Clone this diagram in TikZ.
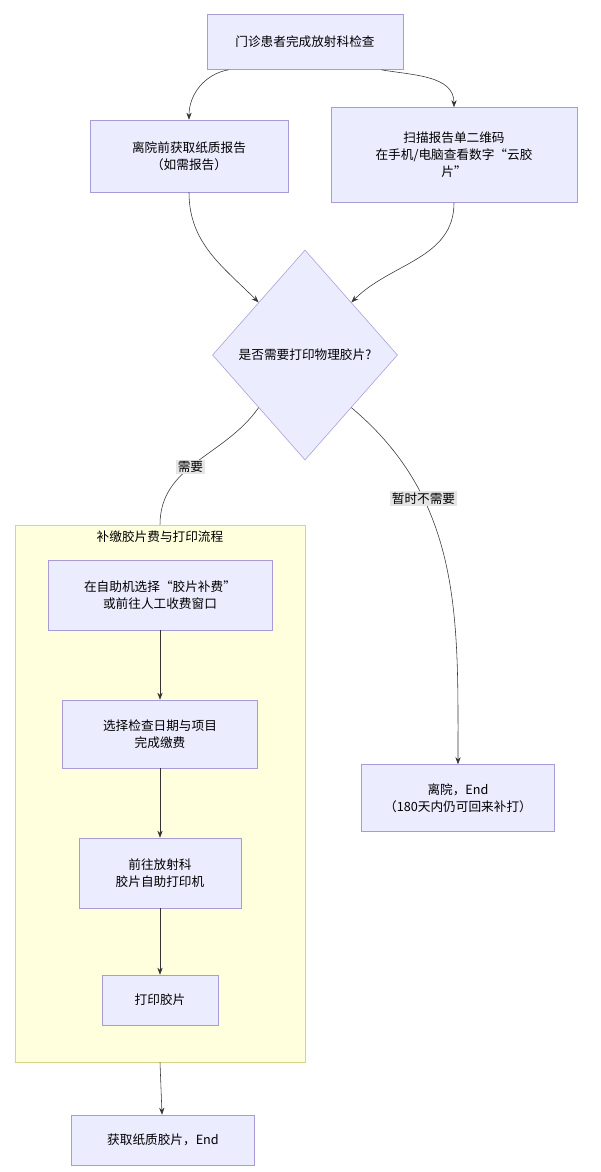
\documentclass[tikz,border=0pt]{standalone}
\usepackage{fontspec}
\setmainfont{Noto Sans CJK SC}
\usetikzlibrary{shapes.geometric,arrows.meta}
\definecolor{nodeline}{HTML}{A99BD8}
\definecolor{nodefill}{HTML}{ECECFF}
\definecolor{flowline}{HTML}{D6D68A}
\definecolor{flowfill}{HTML}{FFFFDE}

\tikzset{
  box/.style={draw=nodeline, fill=nodefill, align=center, font=\fontsize{9}{12}\selectfont, inner sep=2pt},
  arr/.style={draw=black!80, -{Stealth[length=5pt]}},
  lbl/.style={fill=black!10, font=\fontsize{9}{11}\selectfont, inner sep=1pt}
}

\begin{document}
\begin{tikzpicture}[x=0.025cm, y=-0.025cm]
        \useasboundingbox (0,0) rectangle (600,1172);

        \node[draw=flowline, fill=flowfill, minimum width=290*0.025cm, minimum height=537*0.025cm](flow) at (160,793.5) {};
        \node[font=\fontsize{9}{11}\selectfont] (flowtitle) at (160,537) {补缴胶片费与打印流程};

        \node[box, minimum width=196*0.025cm, minimum height=55*0.025cm](start) at (305,42) {门诊患者完成放射科检查};
        \node[box, minimum width=198*0.025cm, minimum height=72*0.025cm](paper) at (189,156) {离院前获取纸质报告\\（如需报告）};
        \node[box, minimum width=246*0.025cm, minimum height=95*0.025cm](cloud) at (454,155) {扫描报告单二维码\\在手机/电脑查看数字“云胶\\片”};
        \node[box, diamond, minimum width=185*0.025cm, minimum height=210*0.025cm, inner sep=0pt](ask) at (305,355) {是否需要打印物理胶片?};

        \node[box, minimum width=224*0.025cm, minimum height=70*0.025cm](pay) at (160,595) {在自助机选择“胶片补费”\\或前往人工收费窗口};
        \node[box, minimum width=195*0.025cm, minimum height=68*0.025cm](date) at (160,734) {选择检查日期与项目\\完成缴费};
        \node[box, minimum width=162*0.025cm, minimum height=70*0.025cm](go) at (160,873) {前往放射科\\胶片自助打印机};
        \node[box, minimum width=116*0.025cm, minimum height=50*0.025cm](print) at (160,1000) {打印胶片};

        \node[box, minimum width=193*0.025cm, minimum height=67*0.025cm](leave) at (458,798) {离院，End\\（180天内仍可回来补打）};
        \node[box, minimum width=183*0.025cm, minimum height=50*0.025cm](final) at (163,1140) {获取纸质胶片，End};

        \draw[arr] (start.200) to[out=190, in=90] (paper.north);
        \draw[arr] (start.-20) to[out=-10, in=90] (cloud.north);
        \draw[arr] (paper.south) to[out=-90, in=135] (ask.north west);
        \draw[arr] (cloud.south) to[out=-90, in=45] (ask.north east);
        \draw[draw=black!80] (ask.south west) to[out=235, in=90] node[lbl, pos=0.55]{需要} (flow.north);
        \draw[arr] (ask.south east) to[out=-40, in=90] node[lbl, pos=0.3]{暂时不需要} (leave.north);
        \draw[arr] (pay) -- (date);
        \draw[arr] (date) -- (go);
        \draw[arr] (go) -- (print);
        \draw[arr] (flow.south) -- (final);
\end{tikzpicture}
\end{document}
